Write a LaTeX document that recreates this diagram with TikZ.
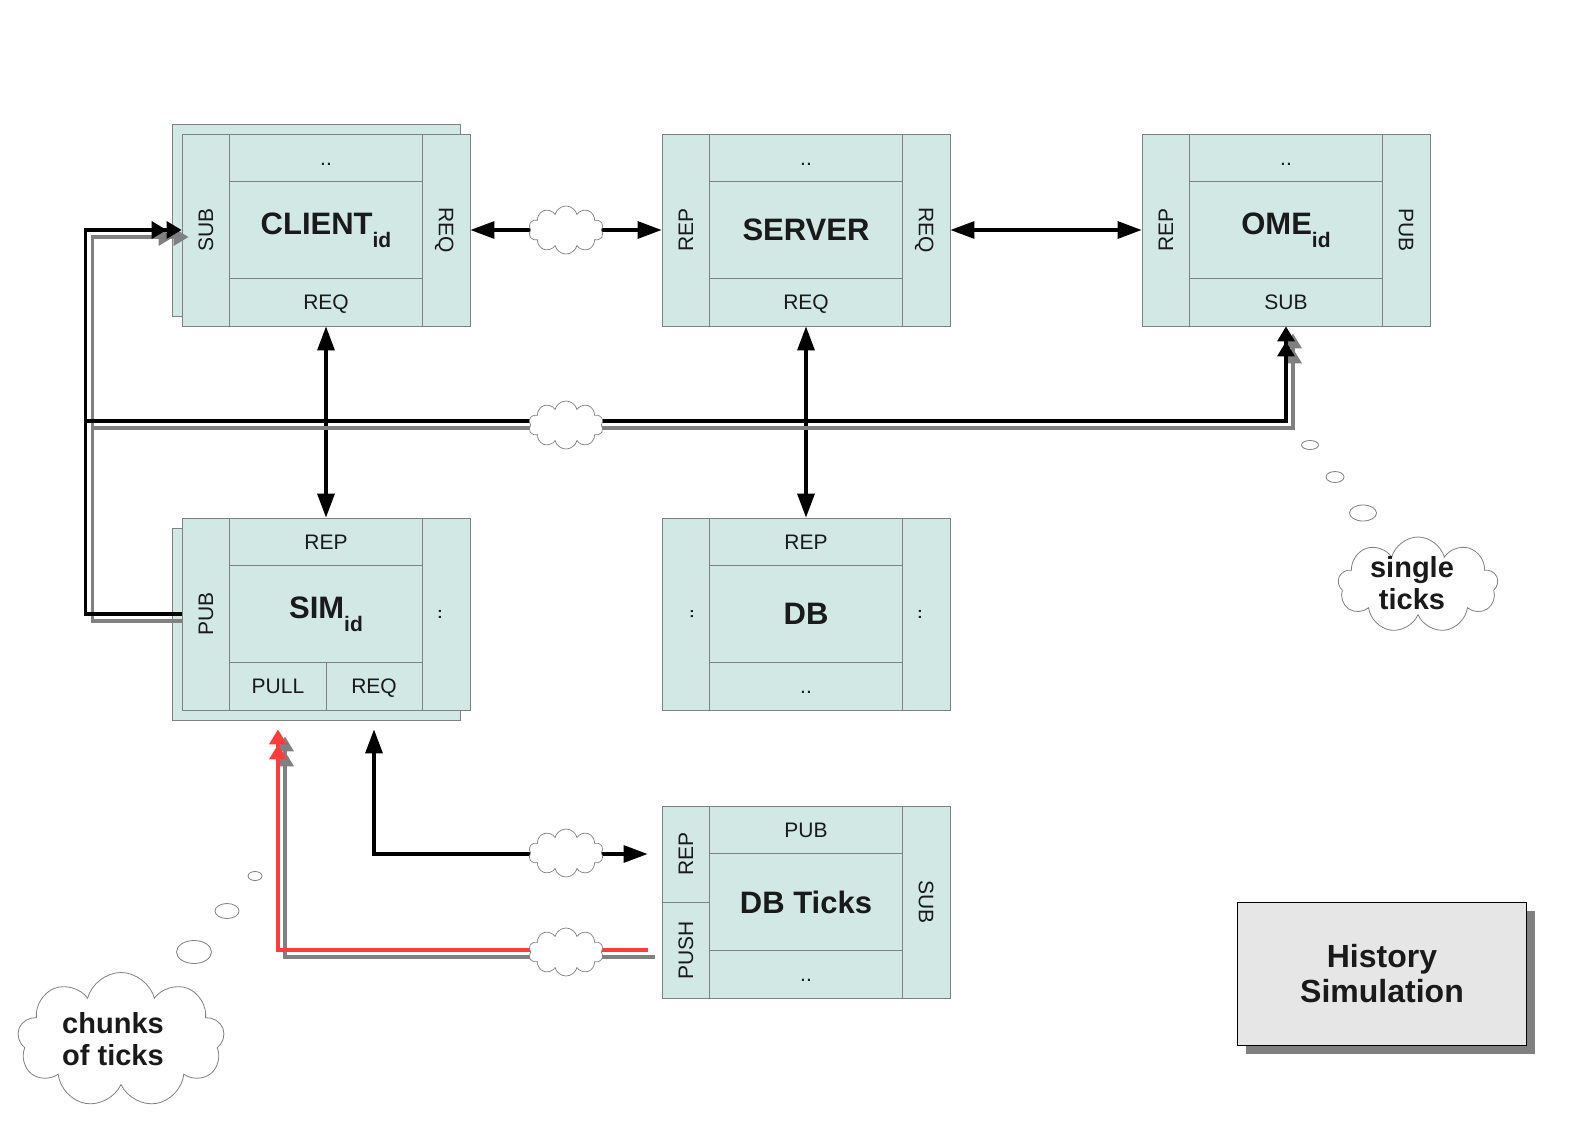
\documentclass[tikz,border=0pt]{standalone}
\usepackage{fontspec}
\setmainfont{Liberation Sans}
\usetikzlibrary{arrows.meta,shapes.symbols,shapes.geometric,calc,shadows}

\definecolor{boxfill}{RGB}{209,232,228}
\definecolor{boxline}{RGB}{128,128,128}
\definecolor{shadowgray}{RGB}{128,128,128}
\definecolor{tickred}{RGB}{255,60,60}
\definecolor{panelgray}{RGB}{230,230,230}
\definecolor{ink}{RGB}{26,26,26}

\newcommand\lblfont{\fontsize{21}{24}\selectfont}
\newcommand\ttlfont{\fontsize{31}{34}\selectfont\bfseries}
\newcommand\notefont{\fontsize{29}{32}\selectfont\bfseries}
\newcommand\panelfont{\fontsize{32}{35}\selectfont\bfseries}
\newcommand\idsub[1]{\raisebox{-0.43em}{\fontsize{21}{23}\selectfont\bfseries #1}}

% cell separators of a component box: two side columns, a top and a bottom row
\newcommand\gridlines[1]{%
  \draw[cellline] ([xshift=48pt]#1.north west) -- ([xshift=48pt]#1.south west);
  \draw[cellline] ([xshift=-48pt]#1.north east) -- ([xshift=-48pt]#1.south east);
  \draw[cellline] ([xshift=48pt,yshift=-48pt]#1.north west) -- ([xshift=-48pt,yshift=-48pt]#1.north east);
  \draw[cellline] ([xshift=48pt,yshift=48pt]#1.south west) -- ([xshift=-48pt,yshift=48pt]#1.south east);}

\tikzset{
  comp/.style={draw=boxline, fill=boxfill, line width=0.8pt, minimum width=288pt,
    minimum height=192pt, inner sep=0pt},
  cellline/.style={draw=boxline, line width=0.8pt},
  lbl/.style={font=\lblfont, text=ink, inner sep=0pt, text height=15pt, text depth=0pt},
  ttl/.style={font=\ttlfont, text=ink, inner sep=0pt},
  wire/.style={line width=3.2pt, draw=black, >={Triangle[length=24pt,width=17pt]}},
  pubtip/.style={-{Triangle[length=15pt,width=17pt]Triangle[length=15pt,width=17pt]}},
  linkcloud/.style={cloud, cloud puffs=10, cloud ignores aspect, draw=boxline, fill=white,
    line width=0.7pt, minimum width=75pt, minimum height=48pt, inner sep=0pt},
  thought/.style={cloud, cloud puffs=9, cloud ignores aspect, draw=boxline, fill=white,
    line width=0.8pt, inner sep=0pt},
  bubble/.style={ellipse, draw=boxline, fill=white, line width=0.8pt, inner sep=0pt},
  note/.style={font=\notefont, text=ink, align=center, inner sep=0pt},
  shadowed/.style={transform canvas={shift={(7pt,-7pt)}}}
}

\begin{document}
\begin{tikzpicture}[x=1pt,y=-1pt]
\useasboundingbox[fill=white] (0,0) rectangle (1588,1122);

% ---------------- component boxes ----------------
\node[comp] (clientback) at (316,220) {};
\node[comp] (client) at (326,230) {};
\gridlines{client}
\node[lbl] (clientTop) at ([yshift=-24pt]client.north) {..};
\node[lbl, rotate=90] (clientSub) at ([xshift=24pt]client.west) {SUB};
\node[lbl, rotate=-90] (clientReqR) at ([xshift=-24pt]client.east) {REQ};
\node[lbl] (clientReqB) at ([yshift=24pt]client.south) {REQ};
\node[ttl] (clientName) at (client.center) {CLIENT\idsub{id}};

\node[comp] (server) at (806,230) {};
\gridlines{server}
\node[lbl] (serverTop) at ([yshift=-24pt]server.north) {..};
\node[lbl, rotate=90] (serverRep) at ([xshift=24pt]server.west) {REP};
\node[lbl, rotate=-90] (serverReqR) at ([xshift=-24pt]server.east) {REQ};
\node[lbl] (serverReqB) at ([yshift=24pt]server.south) {REQ};
\node[ttl] (serverName) at (server.center) {SERVER};

\node[comp] (ome) at (1286,230) {};
\gridlines{ome}
\node[lbl] (omeTop) at ([yshift=-24pt]ome.north) {..};
\node[lbl, rotate=90] (omeRep) at ([xshift=24pt]ome.west) {REP};
\node[lbl, rotate=-90] (omePub) at ([xshift=-24pt]ome.east) {PUB};
\node[lbl] (omeSub) at ([yshift=24pt]ome.south) {SUB};
\node[ttl] (omeName) at (ome.center) {OME\idsub{id}};

\node[comp] (simback) at (316,624) {};
\node[comp] (sim) at (326,614) {};
\gridlines{sim}
\draw[cellline] (sim.south) -- ([yshift=48pt]sim.south);
\node[lbl] (simRep) at ([yshift=-24pt]sim.north) {REP};
\node[lbl, rotate=90] (simPub) at ([xshift=24pt]sim.west) {PUB};
\node[lbl, rotate=-90] (simRight) at ([xshift=-24pt]sim.east) {..};
\node[lbl] (simPull) at ([xshift=-48pt,yshift=24pt]sim.south) {PULL};
\node[lbl] (simReq) at ([xshift=48pt,yshift=24pt]sim.south) {REQ};
\node[ttl] (simName) at (sim.center) {SIM\idsub{id}};

\node[comp] (db) at (806,614) {};
\gridlines{db}
\node[lbl] (dbRep) at ([yshift=-24pt]db.north) {REP};
\node[lbl, rotate=90] (dbLeft) at ([xshift=24pt]db.west) {..};
\node[lbl, rotate=-90] (dbRight) at ([xshift=-24pt]db.east) {..};
\node[lbl] (dbBottom) at ([yshift=24pt]db.south) {..};
\node[ttl] (dbName) at (db.center) {DB};

\node[comp] (ticks) at (806,902) {};
\gridlines{ticks}
\draw[cellline] (ticks.west) -- ([xshift=48pt]ticks.west);
\node[lbl] (ticksPub) at ([yshift=-24pt]ticks.north) {PUB};
\node[lbl, rotate=90] (ticksRep) at ([xshift=24pt,yshift=48pt]ticks.west) {REP};
\node[lbl, rotate=90] (ticksPush) at ([xshift=24pt,yshift=-48pt]ticks.west) {PUSH};
\node[lbl, rotate=-90] (ticksSub) at ([xshift=-24pt]ticks.east) {SUB};
\node[lbl] (ticksBottom) at ([yshift=24pt]ticks.south) {..};
\node[ttl] (ticksName) at (ticks.center) {DB Ticks};

% ---------------- request/reply links ----------------
\draw[wire,<->] (client.east) -- (server.west);
\draw[wire,<->] (server.east) -- (ome.west);
\draw[wire,<->] (client.south) -- (sim.north);
\draw[wire,<->] (server.south) -- (db.north);

% ---------------- tick publication bus ----------------
\coordinate (buscorner) at ([xshift=-96pt]sim.west);
\coordinate (busmid) at (86,421);
\begin{scope}[shadowed]
  \draw[line width=3.4pt, draw=shadowgray, pubtip, shadowgray]
    ([xshift=-7pt]sim.west) -- (buscorner) |- (client.west);
  \draw[line width=3.4pt, draw=shadowgray, pubtip, shadowgray] (busmid) -| (ome.south);
\end{scope}
\draw[line width=3.4pt, pubtip] (sim.west) -- (buscorner) |- (client.west);
\draw[line width=3.4pt, pubtip] (busmid) -| (ome.south);

% ---------------- history ticks ----------------
\coordinate (pushend) at ([xshift=-14pt,yshift=-48pt]ticks.west);
\coordinate (pulltip) at ([xshift=-48pt,yshift=-19pt]sim.south);
\coordinate (repend) at ([xshift=-14pt,yshift=48pt]ticks.west);
\coordinate (reqtip) at ([xshift=48pt,yshift=-19pt]sim.south);
\begin{scope}[shadowed]
  \draw[line width=4pt, draw=shadowgray, pubtip, shadowgray] (pushend) -| (pulltip);
\end{scope}
\draw[line width=4pt, draw=tickred, pubtip, tickred] (pushend) -| (pulltip);
\draw[wire,<->] (reqtip) |- (repend);

% ---------------- network clouds on the links ----------------
\node[linkcloud] (cloudA) at ($(client.east)!0.5!(server.west)$) {};
\node[linkcloud] (cloudB) at (566,425) {};
\node[linkcloud] (cloudC) at (566,853) {};
\node[linkcloud] (cloudD) at (566,952) {};

% ---------------- thought clouds ----------------
\node[bubble, minimum width=14pt, minimum height=9pt] (cb1) at (255,876) {};
\node[bubble, minimum width=24pt, minimum height=15pt] (cb2) at (227,911) {};
\node[bubble, minimum width=35pt, minimum height=23pt] (cb3) at (194,952) {};
\node[thought, minimum width=207pt, minimum height=135pt] (chunkcloud) at (121,1040) {};
\node[note] (chunktext) at (113,1039) {chunks\\of ticks};

\node[bubble, minimum width=17pt, minimum height=9pt] (sb1) at (1310,445) {};
\node[bubble, minimum width=18pt, minimum height=11pt] (sb2) at (1335,477) {};
\node[bubble, minimum width=27pt, minimum height=16pt] (sb3) at (1363,513) {};
\node[thought, minimum width=160pt, minimum height=96pt] (singlecloud) at (1418,585) {};
\node[note] (singletext) at (1412,583) {single\\ticks};

% ---------------- title panel ----------------
\node[draw=black, line width=1.6pt, fill=panelgray, minimum width=289pt, minimum height=143pt,
  inner sep=0pt, align=center, font=\panelfont, text=ink,
  drop shadow={shadow xshift=8pt, shadow yshift=-8pt, fill=shadowgray, opacity=1}]
  (panel) at (1382,974) {History\\Simulation};
\end{tikzpicture}
\end{document}
